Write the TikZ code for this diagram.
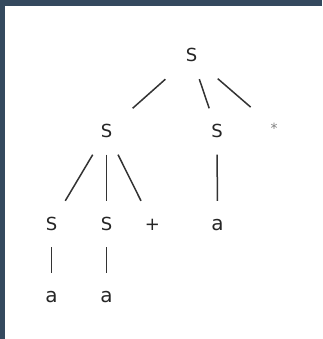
\documentclass[tikz,border=0pt]{standalone}
\usepackage{fontspec}
\setmainfont{DejaVu Sans}
\definecolor{framecol}{HTML}{34495E}
\begin{document}
\begin{tikzpicture}[x=1pt,y=-1pt,
  sym/.style={font=\fontsize{18}{20}\selectfont, text height=12pt, text depth=0pt,
    minimum height=46pt, minimum width=52pt, inner sep=0pt, text=black!85},
  term/.style={sym, font=\fontsize{20}{22}\selectfont},
  starsym/.style={sym, font=\fontsize{14}{16}\selectfont, text=black!50, minimum height=40pt},
  branch/.style={draw=black!80, line width=1.5pt}]
  % frame
  \fill[framecol] (0,0) rectangle (322,339);
  \fill[white] (5,6) rectangle (322,339);
  \useasboundingbox (0,0) rectangle (322,339);
  % parse tree nodes
  \node[sym] (r)  at (191.5,56)   {S};
  \node[sym] (l)  at (106.5,131.5) {S};
  \node[sym] (m)  at (217,131.5)  {S};
  \node[starsym] (st) at (274,127.3) {*};
  \node[sym] (ll) at (51.5,224)   {S};
  \node[sym] (lm) at (106.5,224)  {S};
  \node[sym] (pl) at (152.5,224)  {+};
  \node[term] (ma) at (217.5,224) {a};
  \node[term] (a1) at (51.5,296)  {a};
  \node[term] (a2) at (106.5,296) {a};
  % branches
  \draw[branch] (r) -- (l);
  \draw[branch] (r) -- (m);
  \draw[branch] (r) -- (st);
  \draw[branch] (l) -- (ll);
  \draw[branch] (l) -- (lm);
  \draw[branch] (l) -- (pl);
  \draw[branch] (m) -- (ma);
  \draw[branch] (ll) -- (a1);
  \draw[branch] (lm) -- (a2);
\end{tikzpicture}
\end{document}
